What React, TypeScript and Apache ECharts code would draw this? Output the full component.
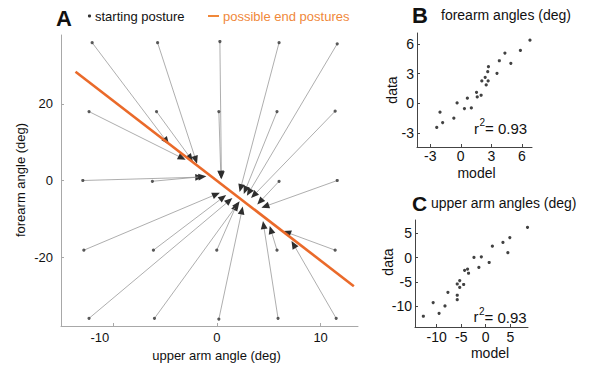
import React, { useEffect, useRef } from "react";
import * as echarts from "echarts";

// Panel A: starting postures and end postures (deg)
const startX = [-12.0, -5.7, 0.3, 6.0, 11.6, -12.3, -5.8, 0.2, 5.8, 11.4, -12.9, -6.2, 6.0, 11.6, -12.8, -6.1, 0.0, 5.8, 11.4, -12.3, -6.0, 0.2, 5.9, 11.5];
const startY = [36, 36, 36.3, 36, 35.7, 18, 18, 18, 18, 18.1, 0, -0.2, -0.2, 0, -18.2, -18.2, -18.2, -18.2, -18.2, -36, -36, -36.2, -36, -36];
const endX = [-4.6, -1.9, 0.45, 2.2, 2.9, -3.0, -2.3, 0.4, 2.6, 3.3, -1.3, -1.0, 3.9, 4.3, 0.3, 0.9, 2.0, 5.1, 6.4, 1.5, 2.2, 2.5, 4.45, 7.2];
const endY = [9.4, 4.4, 0.3, -3.0, -4.0, 5.4, 5.0, 0.5, -3.5, -4.6, 0.9, 1.1, -6.3, -7.1, -3.2, -3.8, -5.8, -11.9, -13.2, -4.6, -5.4, -6.8, -10.6, -15.8];
const endLineX = [-13.6, 13.2];
const endLineY = [28.4, -27.6];
const ticksAX = [-10, 0, 10];
const ticksAY = [-20, 0, 20];

// Panel B: forearm angles (model, data)
const foreModel = [-2.36, -2.04, -1.78, -0.68, -0.36, 0.36, 0.65, 1.04, 1.55, 1.62, 2.0, 2.07, 2.4, 2.5, 2.69, 2.65, 2.72, 3.56, 3.79, 4.34, 4.92, 5.86, 6.8];
const foreData = [-2.43, -0.89, -1.93, -1.49, 0.05, -0.52, 0.52, -0.46, 1.12, 0.65, 0.82, 2.26, 2.63, 1.86, 2.26, 3.2, 3.7, 3.03, 4.3, 5.08, 4.04, 5.34, 6.38];
const ticksB = [-3, 0, 3, 6];

// Panel C: upper arm angles (model, data)
const upperModel = [-12.7, -10.7, -9.5, -8.3, -7.7, -5.8, -5.8, -5.8, -5.3, -5.3, -4.5, -4.3, -3.7, -3.5, -2.4, -1.4, -0.9, 0.7, 1.35, 3.5, 4.5, 4.9, 8.5];
const upperData = [-12.0, -9.2, -11.4, -9.9, -7.1, -7.7, -8.6, -5.4, -6.1, -4.7, -5.5, -2.6, -2.35, -3.2, 0.04, -2.0, 0.17, -1.0, 2.35, 3.1, 1.0, 4.1, 6.2];
const ticksCX = [-10, -5, 0, 5];
const ticksCY = [-10, -5, 0, 5];

const FONT = "Liberation Sans, Arial, Helvetica, sans-serif";
const ORANGE = "#ea6a2a";
const ORANGE_TEXT = "#f0883a";

function valueAxis(gridIndex: number, min: number, max: number, ticks: number[], margin: number, color: string, fontSize: number, extraLabel: any = {}) {
  return {
    type: "value",
    gridIndex,
    min,
    max,
    splitLine: { show: false },
    axisLine: { show: true, onZero: false, lineStyle: { color, width: 1 } },
    axisTick: { show: true, inside: true, length: 3, customValues: ticks, lineStyle: { color } },
    axisLabel: { customValues: ticks, margin, color: "#111", fontSize, fontFamily: FONT, ...extraLabel },
  };
}

export default function App() {
  const ref = useRef<HTMLDivElement>(null);
  useEffect(() => {
    if (!ref.current) return;
    const chart = echarts.init(ref.current, undefined, { renderer: "svg" });
    const arrows = startX.map((x, i) => [x, startY[i], endX[i], endY[i]]);
    const starts = startX.map((x, i) => [x, startY[i]]);
    const endLine = endLineX.map((x, i) => [x, endLineY[i]]);
    const bPts = foreModel.map((x, i) => [x, foreData[i]]);
    const cPts = upperModel.map((x, i) => [x, upperData[i]]);

    const txt = (x: number, y: number, text: string, size: number, extra: any = {}) => ({
      type: "text",
      x,
      y,
      style: { text, fontSize: size, fontFamily: FONT, fill: "#111", verticalAlign: "middle", ...extra },
    });
    const vtxt = (x: number, y: number, text: string, size: number) => ({
      type: "text",
      x,
      y,
      rotation: Math.PI / 2,
      style: { text, fontSize: size, fontFamily: FONT, fill: "#111", align: "center", verticalAlign: "middle" },
    });

    chart.setOption({
      animation: false,
      backgroundColor: "#ffffff",
      grid: [
        { left: 61, top: 35, width: 297, height: 291 },
        { left: 417, top: 33, width: 115, height: 114 },
        { left: 415, top: 220, width: 113, height: 107 },
      ],
      xAxis: [
        valueAxis(0, -15, 13.6, ticksAX, 5, "#a8a8a8", 13, {
          formatter: (v: number) => (v < 0 ? "{neg|" + v + "}" : String(v)),
          rich: { neg: { fontSize: 13, fontFamily: FONT, color: "#111", padding: [0, 26, 0, 0] } },
        }),
        valueAxis(1, -4.3, 7.0, ticksB, 2, "#444", 14),
        valueAxis(2, -14.4, 8.6, ticksCX, 3, "#444", 14),
      ],
      yAxis: [
        valueAxis(0, -38, 38, ticksAY, 8, "#a8a8a8", 13),
        valueAxis(1, -4.4, 7.1, ticksB, 3, "#444", 14),
        valueAxis(2, -14.2, 7.7, ticksCY, 3, "#444", 14),
      ],
      series: [
        {
          type: "custom",
          xAxisIndex: 0,
          yAxisIndex: 0,
          clip: false,
          data: arrows,
          encode: { x: [0, 2], y: [1, 3] },
          renderItem: (params: any, api: any) => {
            const s = api.coord([api.value(0), api.value(1)]);
            const e = api.coord([api.value(2), api.value(3)]);
            const ang = Math.atan2(e[1] - s[1], e[0] - s[0]);
            const L = 8;
            const W = 3.4;
            const ux = Math.cos(ang);
            const uy = Math.sin(ang);
            const bx = e[0] - ux * L;
            const by = e[1] - uy * L;
            return {
              type: "group",
              children: [
                { type: "line", shape: { x1: s[0], y1: s[1], x2: bx, y2: by }, style: { stroke: "#999999", lineWidth: 0.8 } },
                {
                  type: "polygon",
                  shape: { points: [[e[0], e[1]], [bx - uy * W, by + ux * W], [bx + uy * W, by - ux * W]] },
                  style: { fill: "#2e2e2e" },
                },
              ],
            };
          },
        },
        {
          type: "scatter",
          xAxisIndex: 0,
          yAxisIndex: 0,
          data: starts,
          symbolSize: 3.2,
          itemStyle: { color: "#333" },
        },
        {
          type: "line",
          xAxisIndex: 0,
          yAxisIndex: 0,
          data: endLine,
          symbol: "none",
          z: 5,
          lineStyle: { color: ORANGE, width: 2.6 },
        },
        {
          type: "scatter",
          xAxisIndex: 1,
          yAxisIndex: 1,
          data: bPts,
          symbolSize: 3.2,
          itemStyle: { color: "#111" },
        },
        {
          type: "scatter",
          xAxisIndex: 2,
          yAxisIndex: 2,
          data: cPts,
          symbolSize: 3.2,
          itemStyle: { color: "#111" },
        },
      ],
      graphic: [
        // Panel A header
        txt(56, 18, "A", 22, { fontWeight: "bold" }),
        { type: "circle", shape: { cx: 89.5, cy: 16, r: 1.6 }, style: { fill: "#333" } },
        txt(95, 16, "starting posture", 13),
        { type: "line", shape: { x1: 208, y1: 16, x2: 219, y2: 16 }, style: { stroke: ORANGE_TEXT, lineWidth: 2 } },
        txt(223, 16, "possible end postures", 13, { fill: ORANGE_TEXT }),
        // Panel A axis names
        vtxt(20, 180, "forearm angle (deg)", 13),
        txt(216.5, 355, "upper arm angle (deg)", 13, { align: "center" }),
        // Panel B header & labels
        txt(412, 15, "B", 22, { fontWeight: "bold" }),
        txt(441, 15, "forearm angles (deg)", 14),
        vtxt(392, 90, "data", 14),
        txt(476.5, 173, "model", 14, { align: "center" }),
        txt(474, 128, "r", 15),
        txt(479.5, 122.5, "2", 10),
        txt(485, 128.5, "= 0.93", 15),
        // Panel C header & labels
        txt(412, 203, "C", 21, { fontWeight: "bold" }),
        txt(431, 203, "upper arm angles (deg)", 14),
        vtxt(388, 262, "data", 14),
        txt(490, 353, "model", 14, { align: "center" }),
        txt(473.5, 316.5, "r", 15),
        txt(479, 311, "2", 10),
        txt(484.5, 317, "= 0.93", 15),
      ],
    });
    return () => chart.dispose();
  }, []);
  return (
    <div
      ref={ref}
      style={{ position: "fixed", left: 0, top: 0, width: 594, height: 366, background: "#fff" }}
    />
  );
}
